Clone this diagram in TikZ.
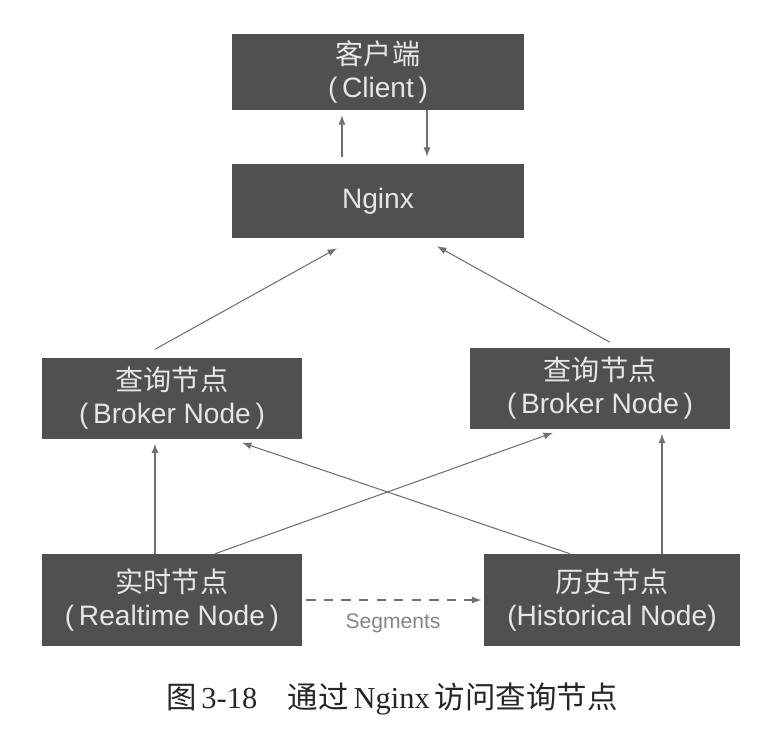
\documentclass[tikz,border=0pt]{standalone}
\usepackage{fontspec}
\setmainfont{Liberation Sans}
\newfontfamily\cjk{Noto Sans CJK SC}
\newfontfamily\capserif{Liberation Serif}
\usetikzlibrary{arrows.meta,calc}
\definecolor{boxgray}{HTML}{505050}
\definecolor{boxtext}{HTML}{E6E6E6}
\definecolor{linegray}{HTML}{707070}
\tikzset{every node/.style={inner sep=0pt}, % Sizes below are set by hand
        block/.style={ % Dark boxes of the servers
            fill=boxgray,
            text=boxtext,
            align=center,
            font=\fontsize{24}{28}\selectfont},
        link/.style={ % Plain query arrows
            draw=linegray,
            line width=0.9pt,
            -{Latex[length=8pt,width=6pt]}},
        handoff/.style={ % Dashed hand-over of segments
            link,
            dash pattern=on 8pt off 7pt}
        }

\begin{document}
\begin{tikzpicture}[x=0.03cm,y=-0.03cm]
    \useasboundingbox (0,0) rectangle (770,755);
    % boxes
    \node[block, minimum width=8.76cm, minimum height=2.28cm] (cli) at (378,72) {{\cjk 客户端}\\(\,Client\,)};
    \node[block, minimum width=8.76cm, minimum height=2.22cm] (ngx) at (378,201) {Nginx};
    \node[block, minimum width=7.8cm, minimum height=2.43cm] (lbk) at (172,398) {{\cjk 查询节点}\\(\,Broker Node\,)};
    \node[block, minimum width=7.77cm, minimum height=2.43cm] (rbk) at (600,388) {{\cjk 查询节点}\\(\,Broker Node\,)};
    \node[block, minimum width=7.8cm, minimum height=2.76cm] (rtm) at (172,600) {{\cjk 实时节点}\\(\,Realtime Node\,)};
    \node[block, minimum width=7.65cm, minimum height=2.76cm] (hst) at (612,600) {{\cjk 历史节点}\\(Historical Node)};
    % client and nginx
    \draw[link] ($(ngx.north)+(-36,-7)$) -- ($(cli.south)+(-36,5)$);
    \draw[link] ($(cli.south)+(49,0)$) -- ($(ngx.north)+(49,-7)$);
    % brokers up to nginx
    \draw[link] ($(lbk.north)+(-17,-8)$) -- ($(ngx.south)+(-41,10)$);
    \draw[link] ($(rbk.north)+(10,-5)$) -- ($(ngx.south)+(59,8)$);
    % data nodes up to brokers
    \draw[link] ($(rtm.north)+(-17,0)$) -- ($(lbk.south)+(-17,5)$);
    \draw[link] ($(rtm.north)+(43,0)$) -- ($(rbk.south)+(-47,4)$);
    \draw[link] ($(hst.north)+(-42,0)$) -- ($(lbk.south)+(70,4)$);
    \draw[link] ($(hst.north)+(50,0)$) -- ($(rbk.south)+(62,5)$);
    % segments
    \draw[handoff] ($(rtm.east)+(4,0)$) -- ($(hst.west)+(-3,0)$);
    \node[text=linegray!85, font=\fontsize{18}{21}\selectfont] (seg) at (393,623) {Segments};
    % caption
    \node[text=black!85, font=\capserif\fontsize{26}{30}\selectfont] (cap) at (392,699)
        {{\cjk 图}\kern4pt3-18\hspace{1em}{\cjk 通过}\,Nginx\,{\cjk 访问查询节点}};
\end{tikzpicture}
\end{document}
